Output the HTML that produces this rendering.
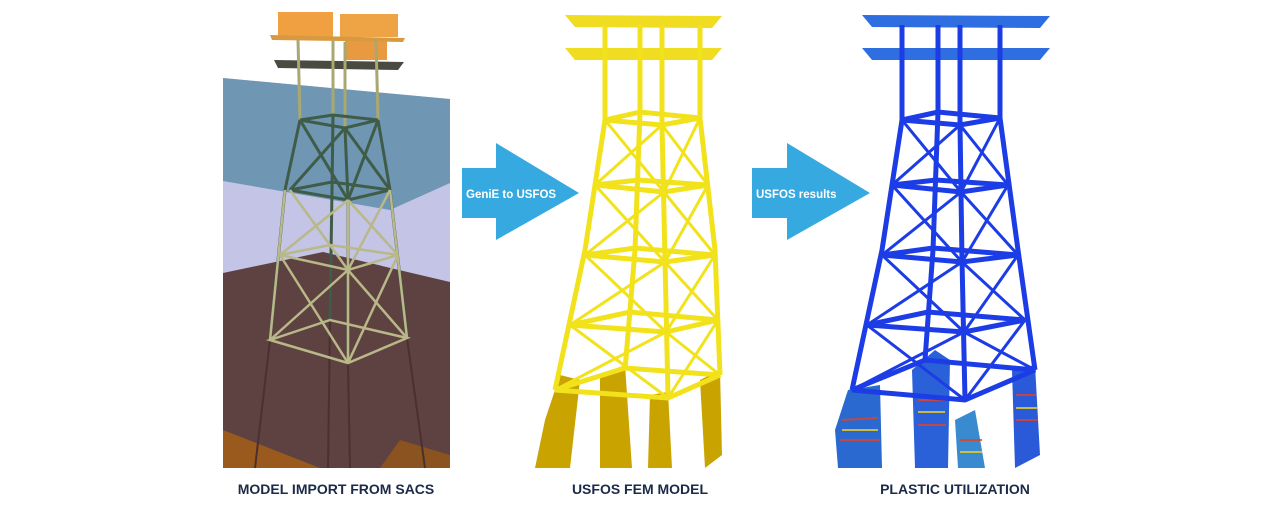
<!DOCTYPE html>
<html><head><meta charset="utf-8"><style>
html,body{margin:0;padding:0;background:#fff;width:1288px;height:511px;overflow:hidden}
.lbl{position:absolute;top:481px;font:bold 14px "Liberation Sans",sans-serif;color:#1b2a48;white-space:nowrap;transform:translateX(-50%)}
</style></head><body>
<svg width="1288" height="511" style="position:absolute;left:0;top:0">
<!-- left panel backgrounds -->
<polygon points="223,78 450,99 450,468 223,468" fill="#c4c4e6"/>
<polygon points="223,78 450,99 450,183 390,210 223,181" fill="#6f97b4"/>
<polygon points="223,273 323,252 450,282 450,468 223,468" fill="#5e4141"/>
<polygon points="223,430 320,468 223,468" fill="#9a5a1e"/>
<polygon points="400,440 450,455 450,468 380,468" fill="#8a5320"/>
<!-- piles under mudline -->
<g stroke="#4a3030" stroke-width="2">
<line x1="270" y1="340" x2="255" y2="468"/><line x1="348" y1="363" x2="350" y2="468"/><line x1="407" y1="338" x2="425" y2="468"/><line x1="330" y1="320" x2="328" y2="468"/>
</g>
<!-- left deck modules -->
<rect x="278" y="12" width="55" height="25" fill="#f0a040"/><rect x="340" y="14" width="58" height="23" fill="#eea345"/>
<rect x="345" y="40" width="42" height="20" fill="#e89a40"/>
<polygon points="270,35 405,38 403,42 272,40" fill="#d89a40"/>
<polygon points="274,60 404,62 398,70 278,68" fill="#4a4a40"/>
<g stroke="#a8a870" stroke-width="3"><line x1="298" y1="40" x2="300" y2="120"/><line x1="333" y1="40" x2="333" y2="115"/><line x1="345" y1="42" x2="345" y2="128"/><line x1="376" y1="40" x2="378" y2="120"/></g>
<!-- left jacket -->
<g stroke="#3f5c48" stroke-width="3" fill="none">
<polyline points="300,120 285,190 270,340"/><polyline points="378,120 390,190 407,338"/><polyline points="345,128 348,200 348,363"/><polyline points="333,115 332,190 330,320"/>
<polygon points="300,120 345,128 378,120 333,115"/>
<polygon points="290,190 348,200 390,190 332,182"/>
<line x1="300" y1="120" x2="348" y2="200"/><line x1="345" y1="128" x2="290" y2="190"/><line x1="345" y1="128" x2="390" y2="190"/><line x1="378" y1="120" x2="348" y2="200"/>
</g>
<g stroke="#b8b888" stroke-width="2.5" fill="none">
<polygon points="280,255 348,270 398,255 330,245"/>
<polygon points="270,340 348,363 407,338 330,320"/>
<line x1="290" y1="190" x2="348" y2="270"/><line x1="348" y1="200" x2="280" y2="255"/><line x1="348" y1="200" x2="398" y2="255"/><line x1="390" y1="190" x2="348" y2="270"/>
<line x1="280" y1="255" x2="348" y2="363"/><line x1="348" y1="270" x2="270" y2="340"/><line x1="348" y1="270" x2="407" y2="338"/><line x1="398" y1="255" x2="348" y2="363"/>
<line x1="285" y1="190" x2="270" y2="340"/><line x1="390" y1="190" x2="407" y2="338"/><line x1="348" y1="200" x2="348" y2="363"/>
</g>
<!-- arrows -->
<polygon points="462,168 496,168 496,143 579,193 496,240 496,218 462,218" fill="#36a9e1"/>
<text x="466" y="198" font-family="Liberation Sans,sans-serif" font-weight="bold" font-size="11.5" fill="#fff">GeniE to USFOS</text>
<polygon points="752,168 787,168 787,143 870,193 787,240 787,218 752,218" fill="#36a9e1"/>
<text x="756" y="198" font-family="Liberation Sans,sans-serif" font-weight="bold" font-size="11.5" fill="#fff">USFOS results</text>

<!-- middle yellow tower -->
<g fill="#c9a400">
<polygon points="545,420 560,375 580,380 570,468 535,468"/>
<polygon points="600,375 625,365 632,468 600,468"/>
<polygon points="650,395 668,392 672,468 648,468"/>
<polygon points="700,380 720,370 722,455 705,468"/>
</g>
<polygon points="565,15 722,16 712,28 575,27" fill="#f0dc20"/>
<polygon points="565,48 722,48 712,60 575,60" fill="#f0dc20"/>
<g stroke="#f2e21c" stroke-width="5" fill="none">
<line x1="605" y1="25" x2="605" y2="120"/><line x1="640" y1="25" x2="640" y2="112"/><line x1="662" y1="25" x2="662" y2="125"/><line x1="700" y1="25" x2="700" y2="118"/>
<polyline points="605,120 585,250 555,390"/><polyline points="700,118 715,250 720,375"/><polyline points="662,125 665,260 668,395"/><polyline points="640,112 635,250 625,370"/>
<polygon points="605,120 662,125 700,118 640,112"/>
<polygon points="595,185 664,192 708,185 638,180"/>
<polygon points="585,255 665,262 715,255 635,248"/>
<polygon points="570,325 666,332 718,320 630,312"/>
<polygon points="555,390 668,398 720,375 625,368"/>
</g>
<g stroke="#f2e21c" stroke-width="3">
<line x1="605" y1="120" x2="664" y2="192"/><line x1="662" y1="125" x2="595" y2="185"/><line x1="662" y1="125" x2="708" y2="185"/><line x1="700" y1="118" x2="664" y2="192"/>
<line x1="595" y1="185" x2="665" y2="262"/><line x1="664" y1="192" x2="585" y2="255"/><line x1="664" y1="192" x2="715" y2="255"/><line x1="708" y1="185" x2="665" y2="262"/>
<line x1="585" y1="255" x2="666" y2="332"/><line x1="665" y1="262" x2="570" y2="325"/><line x1="665" y1="262" x2="718" y2="320"/><line x1="715" y1="255" x2="666" y2="332"/>
<line x1="570" y1="325" x2="668" y2="398"/><line x1="666" y1="332" x2="555" y2="390"/><line x1="666" y1="332" x2="720" y2="375"/><line x1="718" y1="320" x2="668" y2="398"/>
</g>

<!-- right blue tower -->
<g>
<polygon points="835,430 848,390 880,385 882,468 838,468" fill="#2a6ad0"/>
<polygon points="912,370 935,350 950,360 948,468 915,468" fill="#2a60d8"/>
<polygon points="955,420 975,410 985,468 958,468" fill="#3a8ad0"/>
<polygon points="1012,370 1035,365 1040,455 1015,468" fill="#2a5ad8"/>
<g stroke="#e84020" stroke-width="2" opacity=".8">
<line x1="842" y1="420" x2="878" y2="418"/><line x1="840" y1="440" x2="880" y2="440"/><line x1="918" y1="400" x2="945" y2="400"/><line x1="918" y1="425" x2="946" y2="425"/><line x1="960" y1="440" x2="982" y2="440"/><line x1="1016" y1="395" x2="1036" y2="395"/><line x1="1016" y1="420" x2="1038" y2="420"/>
</g>
<g stroke="#f0d020" stroke-width="2" opacity=".8">
<line x1="842" y1="430" x2="878" y2="430"/><line x1="918" y1="412" x2="945" y2="412"/><line x1="960" y1="452" x2="982" y2="452"/><line x1="1016" y1="408" x2="1038" y2="408"/>
</g>
</g>
<polygon points="862,15 1050,16 1040,28 872,27" fill="#2f6ee0"/>
<polygon points="862,48 1050,48 1040,60 872,60" fill="#2f6ee0"/>
<g stroke="#1c3ce6" stroke-width="5" fill="none">
<line x1="902" y1="25" x2="902" y2="120"/><line x1="938" y1="25" x2="938" y2="112"/><line x1="960" y1="25" x2="960" y2="125"/><line x1="1000" y1="25" x2="1000" y2="118"/>
<polyline points="902,120 882,250 852,390"/><polyline points="1000,118 1018,250 1035,370"/><polyline points="960,125 962,260 965,400"/><polyline points="938,112 933,250 925,360"/>
<polygon points="902,120 960,125 1000,118 938,112"/>
<polygon points="892,185 961,192 1008,185 936,180"/>
<polygon points="882,255 962,262 1018,255 933,248"/>
<polygon points="867,325 964,332 1025,320 928,312"/>
<polygon points="852,390 965,400 1035,370 925,360"/>
</g>
<g stroke="#1c3ce6" stroke-width="3">
<line x1="902" y1="120" x2="961" y2="192"/><line x1="960" y1="125" x2="892" y2="185"/><line x1="960" y1="125" x2="1008" y2="185"/><line x1="1000" y1="118" x2="961" y2="192"/>
<line x1="892" y1="185" x2="962" y2="262"/><line x1="961" y1="192" x2="882" y2="255"/><line x1="961" y1="192" x2="1018" y2="255"/><line x1="1008" y1="185" x2="962" y2="262"/>
<line x1="882" y1="255" x2="964" y2="332"/><line x1="962" y1="262" x2="867" y2="325"/><line x1="962" y1="262" x2="1025" y2="320"/><line x1="1018" y1="255" x2="964" y2="332"/>
<line x1="867" y1="325" x2="965" y2="400"/><line x1="964" y1="332" x2="852" y2="390"/><line x1="964" y1="332" x2="1035" y2="370"/><line x1="1025" y1="320" x2="965" y2="400"/>
</g>
</svg>
<div class="lbl" style="left:336px">MODEL IMPORT FROM SACS</div>
<div class="lbl" style="left:640px">USFOS FEM MODEL</div>
<div class="lbl" style="left:955px">PLASTIC UTILIZATION</div>
</body></html>
